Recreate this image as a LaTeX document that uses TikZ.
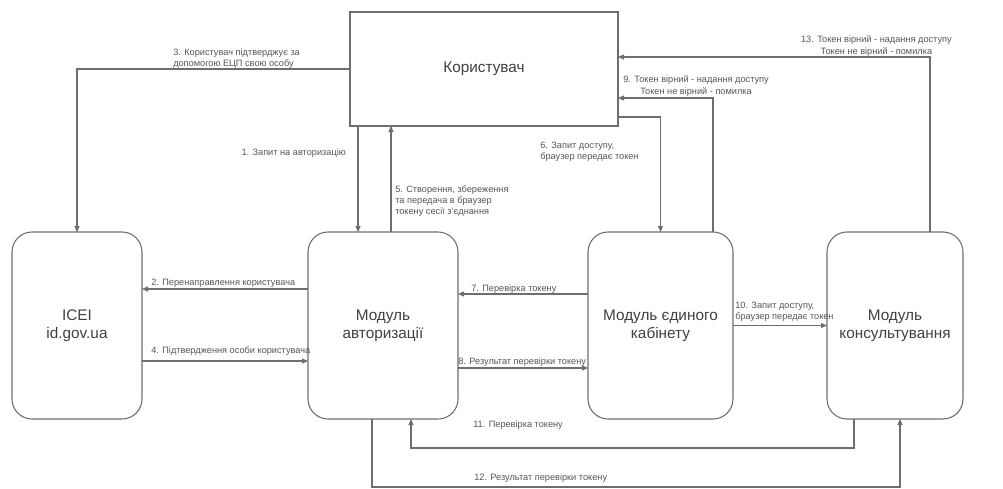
\documentclass[tikz,border=0pt]{standalone}
\usepackage{fontspec}
\setmainfont{Liberation Sans}
\usepackage{tikz, xcolor}
\usetikzlibrary{calc, arrows.meta}

\definecolor{linegray}{RGB}{110,110,110}
\definecolor{textgray}{RGB}{85,85,85}

\tikzset{
	userbox/.style={draw=linegray, line width=0.8pt, rectangle, minimum width=201pt, minimum height=85.5pt, inner sep=0pt, outer sep=0pt, text=black!75, font=\fontsize{11.5}{13.5}\selectfont},
	modbox/.style={draw=linegray, line width=0.8pt, rectangle, rounded corners=15pt, minimum height=140.25pt, inner sep=0pt, outer sep=0pt, align=center, text=black!75, font=\fontsize{11.5}{13.5}\selectfont},
	flow/.style={draw=linegray, line width=0.8pt, -{Triangle[length=4.5pt,width=3.8pt]}},
	lbl/.style={inner sep=0.75pt, text=textgray, font=\fontsize{6.9}{8.4}\selectfont}
}

\begin{document}
\begin{tikzpicture}[x=0.75pt,y=0.75pt,yscale=-1,xscale=1]
	\useasboundingbox (0,0) rectangle (1003,489);
	
	%Shape: Rectangle [user]
	\node[userbox, text depth=2pt] (user) at (484,69) {Користувач};
	%Shape: Rounded Rect [modules]
	\node[modbox, minimum width=97.5pt] (icei) at (77,325.5) {ICEI\\id.gov.ua};
	\node[modbox, minimum width=112.5pt] (auth) at (383,325.5) {Модуль\\авторизації};
	\node[modbox, minimum width=108.75pt] (cab) at (660.5,325.5) {Модуль єдиного\\кабінету};
	\node[modbox, minimum width=102pt] (cons) at (895,325.5) {Модуль\\консультування};
	
	%Shape: Connector points
	\coordinate (a1) at ($(auth.north)+(-25,0)$);
	\coordinate (a5) at ($(auth.north)+(8,0)$);
	\coordinate (u6) at ($(user.east)+(0,48)$);
	\coordinate (c9) at ($(cab.north)+(52.5,0)$);
	\coordinate (k13) at ($(cons.north)+(35,0)$);
	\coordinate (k11) at ($(cons.south)+(-41,0)$);
	\coordinate (a11) at ($(auth.south)+(28,0)$);
	\coordinate (a12) at ($(auth.south)+(-11,0)$);
	\coordinate (k12) at ($(cons.south)+(5,0)$);
	
	%Shape: Arrows
	\draw[flow] (a1 |- user.south) -- (a1);
	\draw[flow] ($(auth.west)+(0,-36.5)$) -- ($(icei.east)+(0,-36.5)$);
	\draw[flow] (user.west) -| (icei.north);
	\draw[flow] ($(icei.east)+(0,35.5)$) -- ($(auth.west)+(0,35.5)$);
	\draw[flow] (a5) -- (a5 |- user.south);
	\draw[flow] (u6) -| (cab.north);
	\draw[flow] ($(cab.west)+(0,-31.5)$) -- ($(auth.east)+(0,-31.5)$);
	\draw[flow] ($(auth.east)+(0,42.5)$) -- ($(cab.west)+(0,42.5)$);
	\draw[flow] (c9) |- ($(user.east)+(0,29)$);
	\draw[flow] (cab.east) -- (cons.west);
	\draw[flow] (k11) -- ++(0,29) -| (a11);
	\draw[flow] (a12) -- ++(0,68) -| (k12);
	\draw[flow] (k13) |- ($(user.east)+(0,-12)$);
	
	% Text Node
	\node[lbl, anchor=east] (t1) at (347,153) {1. Запит на авторизацію};
	% Text Node
	\node[lbl, anchor=west] (t2) at (150,283) {2. Перенаправлення користувача};
	% Text Node
	\node[lbl, anchor=west, align=left] (t3) at (172,58.5) {3. Користувач підтверджує за\\допомогою ЕЦП свою особу};
	% Text Node
	\node[lbl, anchor=west] (t4) at (150,351) {4. Підтвердження особи користувача};
	% Text Node
	\node[lbl, anchor=west, align=left] (t5) at (394,201) {5. Створення, збереження\\та передача в браузер\\токену сесії з'єднання};
	% Text Node
	\node[lbl, anchor=west, align=left] (t6) at (539,152) {6. Запит доступу,\\браузер передає токен};
	% Text Node
	\node[lbl, anchor=west] (t7) at (470,289) {7. Перевірка токену};
	% Text Node
	\node[lbl, anchor=west] (t8) at (457,362) {8. Результат перевірки токену};
	% Text Node
	\node[lbl, anchor=west, align=center] (t9) at (622,86) {9. Токен вірний - надання доступу\\Токен не вірний - помилка};
	% Text Node
	\node[lbl, anchor=west, align=left] (t10) at (734,312) {10. Запит доступу,\\браузер передає токен};
	% Text Node
	\node[lbl, anchor=west] (t11) at (472,425) {11. Перевірка токену};
	% Text Node
	\node[lbl, anchor=west] (t12) at (473,478) {12. Результат перевірки токену};
	% Text Node
	\node[lbl, anchor=east, align=center] (t13) at (953,46) {13. Токен вірний - надання доступу\\Токен не вірний - помилка};
\end{tikzpicture}
\end{document}
